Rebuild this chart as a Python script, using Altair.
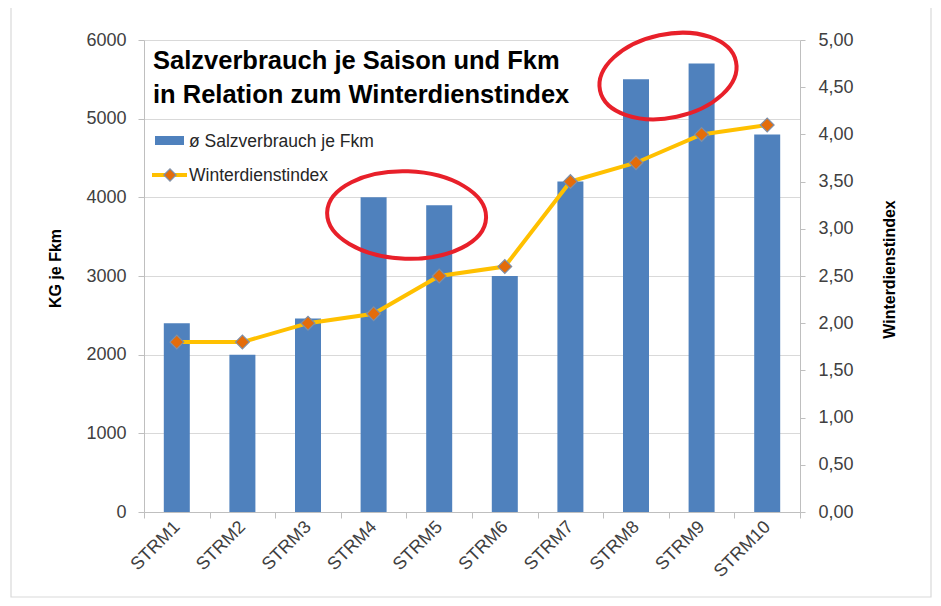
import altair as alt
import pandas as pd

# ---- data ----
categories = ["STRM1", "STRM2", "STRM3", "STRM4", "STRM5",
              "STRM6", "STRM7", "STRM8", "STRM9", "STRM10"]
salt_per_fkm = [2400, 2000, 2460, 4000, 3900, 3000, 4200, 5500, 5700, 4800]
winter_index = [1.8, 1.8, 2.0, 2.1, 2.5, 2.6, 3.5, 3.7, 4.0, 4.1]

title_lines = ["Salzverbrauch je Saison und Fkm", "in Relation zum Winterdienstindex"]
legend_labels = ["ø Salzverbrauch je Fkm", "Winterdienstindex"]
left_title = "KG je Fkm"
right_title = "Winterdienstindex"

# highlight ellipses (anchor category, left-axis value)
ellipse_cats = ["STRM4", "STRM8"]
ellipse_vals = [3775, 5542]

df = pd.DataFrame({"strm": categories, "salz": salt_per_fkm, "idx": winter_index})

FONT = "Liberation Sans"
BLUE = "#4f81bd"
YELLOW = "#ffc000"
ORANGE = "#e46c0a"
RED = "#e8202a"
GRID = "#d9d9d9"
LBL = "#404040"


def ellipse_path(r):
    k = 0.5523
    kr = k * r
    return (f"M-1,0C-1,{-kr:.4f},{-k},{-r},0,{-r}"
            f"C{k},{-r},1,{-kr:.4f},1,0"
            f"C1,{kr:.4f},{k},{r},0,{r}"
            f"C{-k},{r},-1,{kr:.4f},-1,0Z")


x_enc = alt.X(
    "strm:N", sort=categories,
    scale=alt.Scale(paddingInner=0, paddingOuter=0),
    axis=alt.Axis(title=None, labelAngle=-45, labelAlign="right", labelBaseline="middle",
                  labelFontSize=18, labelColor=LBL, labelFont=FONT, labelPadding=6,
                  tickBand="extent", tickSize=6, tickColor="#bfbfbf",
                  domainColor="#bfbfbf", grid=False),
)

base = alt.Chart(df)

bars = base.mark_bar(size=26, color=BLUE).encode(
    x=x_enc,
    y=alt.Y("salz:Q", scale=alt.Scale(domain=[0, 6000], nice=False),
            axis=alt.Axis(orient="left", values=[0, 1000, 2000, 3000, 4000, 5000, 6000],
                          format="d",
                          title=left_title, titleFont=FONT, titleFontSize=16,
                          titleFontWeight="bold", titleColor="#000000", titlePadding=22,
                          titleY=228,
                          labelFont=FONT, labelFontSize=18, labelColor=LBL, labelPadding=12,
                          tickSize=6, tickColor="#bfbfbf", domainColor="#bfbfbf",
                          grid=True, gridColor=GRID, gridWidth=1)),
)

line = base.mark_line(color=YELLOW, strokeWidth=4).encode(
    x=x_enc,
    y=alt.Y("idx:Q", scale=alt.Scale(domain=[0, 5], nice=False),
            axis=alt.Axis(orient="right", values=[0, 0.5, 1, 1.5, 2, 2.5, 3, 3.5, 4, 4.5, 5],
                          labelExpr="replace(format(datum.value, '.2f'), '.', ',')",
                          title=right_title, titleFont=FONT, titleFontSize=16,
                          titleFontWeight="bold", titleColor="#000000", titleAngle=270,
                          titlePadding=44, titleY=229,
                          labelFont=FONT, labelFontSize=18, labelColor=LBL, labelPadding=13,
                          tickSize=5, tickColor="#bfbfbf", domainColor="#bfbfbf",
                          grid=False)),
)

points = base.mark_point(shape="diamond", filled=True, fill=ORANGE, stroke="#7f8fa6",
                         strokeWidth=1.2, size=190, opacity=1).encode(
    x=x_enc,
    y=alt.Y("idx:Q", scale=alt.Scale(domain=[0, 5], nice=False), axis=None),
)

edf = pd.DataFrame({"strm": ellipse_cats, "v": ellipse_vals})
e1 = alt.Chart(edf.iloc[[0]]).mark_point(
    shape=ellipse_path(0.55), size=159 * 159, angle=2, filled=False,
    stroke=RED, strokeWidth=4, opacity=1, xOffset=33).encode(
    x=x_enc,
    y=alt.Y("v:Q", scale=alt.Scale(domain=[0, 6000], nice=False), axis=None),
)
e2 = alt.Chart(edf.iloc[[1]]).mark_point(
    shape=ellipse_path(0.6), size=139 * 139, angle=348, filled=False,
    stroke=RED, strokeWidth=4, opacity=1, xOffset=32).encode(
    x=x_enc,
    y=alt.Y("v:Q", scale=alt.Scale(domain=[0, 6000], nice=False), axis=None),
)

one = alt.Data(values=[{"a": 1}])

frame = alt.Chart(one).mark_rect(fill=None, stroke=GRID, strokeWidth=1.2).encode(
    x=alt.value(-133), x2=alt.value(787), y=alt.value(-34), y2=alt.value(557))

title1 = alt.Chart(one).mark_text(text=title_lines[0], font=FONT, fontSize=25.5, fontWeight="bold",
                                  align="left", baseline="alphabetic", color="#000000").encode(
    x=alt.value(9), y=alt.value(29))
title2 = alt.Chart(one).mark_text(text=title_lines[1], font=FONT, fontSize=25.5, fontWeight="bold",
                                  align="left", baseline="alphabetic", color="#000000").encode(
    x=alt.value(9), y=alt.value(63))

leg_rect = alt.Chart(one).mark_rect(color=BLUE).encode(
    x=alt.value(11), x2=alt.value(40), y=alt.value(96), y2=alt.value(105))
leg_t1 = alt.Chart(one).mark_text(text=legend_labels[0], font=FONT, fontSize=17.5, align="left",
                                  baseline="alphabetic", color="#262626").encode(
    x=alt.value(45), y=alt.value(107))
leg_line = alt.Chart(one).mark_rule(color=YELLOW, strokeWidth=4).encode(
    x=alt.value(8), x2=alt.value(43), y=alt.value(135))
leg_pt = alt.Chart(one).mark_point(shape="diamond", filled=True, fill=ORANGE, stroke="#7f8fa6",
                                   strokeWidth=1.2, size=150, opacity=1).encode(
    x=alt.value(26), y=alt.value(135))
leg_t2 = alt.Chart(one).mark_text(text=legend_labels[1], font=FONT, fontSize=17.5, align="left",
                                  baseline="alphabetic", color="#262626").encode(
    x=alt.value(45), y=alt.value(141))

chart = alt.layer(
    frame, bars, line, points, e1, e2,
    title1, title2, leg_rect, leg_t1, leg_line, leg_pt, leg_t2,
).resolve_scale(y="independent").properties(
    width=656, height=472,
    autosize=alt.AutoSizeParams(type="none"),
    padding={"left": 136, "top": 32, "right": 133, "bottom": 86},
    background="#ffffff",
).configure_view(stroke=None)

chart.save("out.html", embed_options={"renderer": "svg", "actions": False})
